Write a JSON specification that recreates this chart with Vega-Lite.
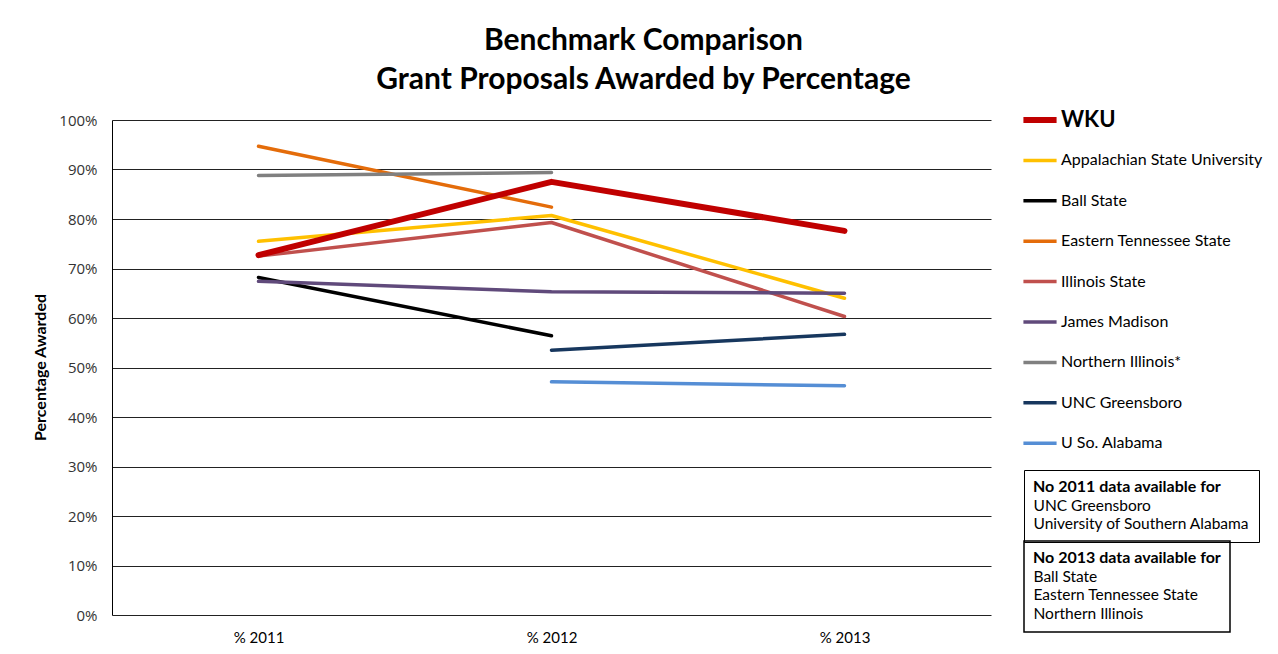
{
  "$schema": "https://vega.github.io/schema/vega-lite/v6.json",
  "width": 879,
  "height": 495,
  "autosize": "none",
  "padding": {"left": 112, "top": 120, "right": 287, "bottom": 39},
  "background": "white",
  "title": {
    "text": ["Benchmark Comparison", "Grant Proposals Awarded by Percentage"],
    "font": "Lato",
    "fontSize": 30,
    "fontWeight": "bold",
    "color": "#000000",
    "lineHeight": 39,
    "anchor": "middle",
    "dx": 92,
    "offset": 17
  },
  "datasets": {
    "main": [
      {"year": "% 2011", "school": "WKU", "value": 0.727},
      {"year": "% 2012", "school": "WKU", "value": 0.875},
      {"year": "% 2013", "school": "WKU", "value": 0.776},
      {"year": "% 2011", "school": "Appalachian State University", "value": 0.755},
      {"year": "% 2012", "school": "Appalachian State University", "value": 0.807},
      {"year": "% 2013", "school": "Appalachian State University", "value": 0.640},
      {"year": "% 2011", "school": "Ball State", "value": 0.682},
      {"year": "% 2012", "school": "Ball State", "value": 0.564},
      {"year": "% 2011", "school": "Eastern Tennessee State", "value": 0.947},
      {"year": "% 2012", "school": "Eastern Tennessee State", "value": 0.824},
      {"year": "% 2011", "school": "Illinois State", "value": 0.725},
      {"year": "% 2012", "school": "Illinois State", "value": 0.793},
      {"year": "% 2013", "school": "Illinois State", "value": 0.603},
      {"year": "% 2011", "school": "James Madison", "value": 0.674},
      {"year": "% 2012", "school": "James Madison", "value": 0.653},
      {"year": "% 2013", "school": "James Madison", "value": 0.650},
      {"year": "% 2011", "school": "Northern Illinois*", "value": 0.888},
      {"year": "% 2012", "school": "Northern Illinois*", "value": 0.894},
      {"year": "% 2012", "school": "UNC Greensboro", "value": 0.535},
      {"year": "% 2013", "school": "UNC Greensboro", "value": 0.567},
      {"year": "% 2012", "school": "U So. Alabama", "value": 0.471},
      {"year": "% 2013", "school": "U So. Alabama", "value": 0.463}
    ],
    "notes2011": [
      {"school": "UNC Greensboro"},
      {"school": "University of Southern Alabama"}
    ],
    "notes2013": [
      {"school": "Ball State"},
      {"school": "Eastern Tennessee State"},
      {"school": "Northern Illinois"}
    ]
  },
  "layer": [
    {
      "data": {"name": "main"},
      "transform": [{"filter": "datum.school != 'WKU'"}],
      "mark": {"type": "line", "strokeWidth": 3.5, "strokeCap": "round", "strokeJoin": "round"},
      "encoding": {
        "x": {
          "field": "year", "type": "nominal",
          "scale": {"type": "point", "padding": 0.5},
          "axis": {
            "title": null, "labelAngle": 0, "ticks": false, "domain": false,
            "labelFont": "Lato",
            "labelFontSize": 15, "labelColor": "#000000", "labelPadding": 15
          }
        },
        "y": {
          "field": "value", "type": "quantitative",
          "scale": {"domain": [0, 1], "nice": false},
          "axis": {
            "title": "Percentage Awarded",
            "format": "%",
            "values": [0, 0.1, 0.2, 0.3, 0.4, 0.5, 0.6, 0.7, 0.8, 0.9, 1],
            "grid": true, "gridColor": "#222222", "gridWidth": 1, "gridOpacity": 1,
            "ticks": false, "tickSize": 0,
            "domain": true, "domainColor": "#000000", "domainWidth": 1,
            "labelFont": "Open Sans", "labelFontSize": 15, "labelColor": "#333333",
            "labelPadding": 15,
            "titleFont": "Lato", "titleFontSize": 16, "titleFontWeight": "bold",
            "titleColor": "#000000", "titleX": -64, "titleY": 247
          }
        },
        "color": {
          "field": "school", "type": "nominal",
          "scale": {
            "domain": ["WKU", "Appalachian State University", "Ball State", "Eastern Tennessee State", "Illinois State", "James Madison", "Northern Illinois*", "UNC Greensboro", "U So. Alabama"],
            "range": ["#C00000", "#FFC000", "#000000", "#E46C0A", "#C0504D", "#604A7B", "#808080", "#17375E", "#558ED5"]
          },
          "legend": {
            "title": null,
            "orient": "none",
            "legendX": 920,
            "legendY": -8,
            "padding": 0,
            "symbolType": "stroke",
            "symbolSize": 1100,
            "symbolStrokeWidth": 3.5,
            "labelFont": "Lato",
            "labelFontSize": 16,
            "labelColor": "#000000",
            "labelOffset": 13,
            "labelLimit": 300,
            "rowPadding": 20.4,
            "gridAlign": "all",
            "encode": {
              "labels": {
                "update": {
                  "fontSize": {"signal": "datum.label == 'WKU' ? 22 : 16"},
                  "fontWeight": {"signal": "datum.label == 'WKU' ? 'bold' : 'normal'"}
                }
              },
              "symbols": {
                "update": {
                  "strokeWidth": {"signal": "datum.label == 'WKU' ? 6 : 3.5"}
                }
              }
            }
          }
        }
      }
    },
    {
      "data": {"name": "main"},
      "transform": [{"filter": "datum.school == 'WKU'"}],
      "mark": {"type": "line", "strokeWidth": 6, "strokeCap": "round", "strokeJoin": "round"},
      "encoding": {
        "x": {"field": "year", "type": "nominal"},
        "y": {"field": "value", "type": "quantitative"},
        "color": {"field": "school", "type": "nominal"}
      }
    },
    {
      "data": {"name": "notes2011"},
      "mark": {"type": "point", "opacity": 0},
      "encoding": {
        "shape": {
          "field": "school", "type": "nominal",
          "legend": {
            "title": "No 2011 data available for",
            "orient": "none",
            "legendX": 912,
            "legendY": 350,
            "padding": 9,
            "strokeColor": "#000000",
            "symbolSize": 0,
            "symbolOpacity": 0,
            "labelOffset": -15,
            "titleFont": "Lato",
            "titleFontSize": 16,
            "titleFontWeight": "bold",
            "titleColor": "#000000",
            "titlePadding": 3,
            "titleLimit": 400,
            "labelFont": "Lato",
            "labelFontSize": 15.5,
            "labelColor": "#000000",
            "labelLimit": 300,
            "rowPadding": 1.5,
            "encode": {
              "legend": {"update": {"strokeWidth": {"value": 1.5}}}
            }
          }
        }
      }
    },
    {
      "data": {"name": "notes2013"},
      "mark": {"type": "point", "opacity": 0, "filled": true},
      "encoding": {
        "fill": {
          "field": "school", "type": "nominal",
          "scale": {"range": ["#ffffff", "#ffffff", "#ffffff"]},
          "legend": {
            "title": "No 2013 data available for",
            "orient": "none",
            "legendX": 912,
            "legendY": 421,
            "padding": 9,
            "strokeColor": "#000000",
            "symbolSize": 0,
            "symbolOpacity": 0,
            "labelOffset": -15,
            "titleFont": "Lato",
            "titleFontSize": 16,
            "titleFontWeight": "bold",
            "titleColor": "#000000",
            "titlePadding": 3,
            "titleLimit": 400,
            "labelFont": "Lato",
            "labelFontSize": 15.5,
            "labelColor": "#000000",
            "labelLimit": 300,
            "rowPadding": 1.5,
            "encode": {
              "legend": {"update": {"strokeWidth": {"value": 1.5}}}
            }
          }
        }
      }
    }
  ],
  "config": {
    "view": {"stroke": null}
  }
}
